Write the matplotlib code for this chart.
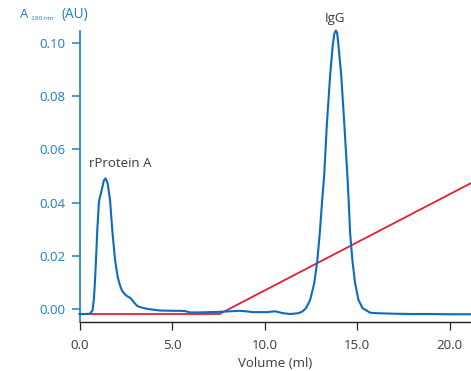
import matplotlib
matplotlib.use("Agg")
import matplotlib.pyplot as plt

# UV trace (A280)
volume_ml = [0.0, 0.3, 0.57, 0.71, 0.78, 0.84, 0.90, 0.96, 1.05, 1.12, 1.2, 1.32, 1.41,
             1.52, 1.65, 1.77, 1.92, 2.06, 2.17, 2.28, 2.42, 2.55, 2.77, 2.95, 3.12, 3.27,
             3.6, 4.0, 4.35, 5.0, 5.43, 5.7, 5.97, 6.51, 7.0, 7.51, 8.1, 8.65, 9.0, 9.38,
             10.12, 10.57, 11.0, 11.38, 11.83, 12.03, 12.24, 12.46, 12.68, 12.84, 12.98,
             13.11, 13.22, 13.36, 13.54, 13.68, 13.77, 13.85, 13.92, 13.99,
             14.14, 14.31, 14.47, 14.54, 14.62, 14.75, 14.89, 15.07, 15.29,
             15.7, 16.06, 17.0, 18.0, 19.0, 20.0, 21.2]
absorbance_au = [-0.0018, -0.0018, -0.0017, -0.0003, 0.004, 0.011, 0.020, 0.0297, 0.0403,
                 0.0425, 0.0447, 0.0484, 0.0491, 0.0472, 0.041, 0.0297, 0.0185, 0.0122,
                 0.0093, 0.0072, 0.0058, 0.005, 0.0041, 0.0025, 0.0012, 0.0008, 0.0002,
                 -0.0002, -0.0005, -0.0006, -0.0006, -0.0007, -0.0012, -0.0012, -0.0011,
                 -0.001, -0.0008, -0.0006, -0.0008, -0.0011, -0.0011, -0.0008, -0.0015,
                 -0.0018, -0.0015, -0.0009, 0.0004, 0.0035, 0.0097, 0.0178, 0.0285,
                 0.041, 0.0503, 0.069, 0.0878, 0.099, 0.1035, 0.1046, 0.1036, 0.099,
                 0.0878, 0.069, 0.0503, 0.041, 0.0285, 0.0178, 0.0097, 0.0035, 0.0004,
                 -0.0013, -0.0015, -0.0017, -0.0018, -0.0018, -0.0019, -0.0019]

# Elution gradient (drawn on the same scale)
gradient_ml = [0.0, 7.56, 21.2]
gradient_au = [-0.0018, -0.0018, 0.0475]

x_ticks = [0.0, 5.0, 10.0, 15.0, 20.0]
x_tick_labels = ["0.0", "5.0", "10.0", "15.0", "20.0"]
y_ticks = [0.00, 0.02, 0.04, 0.06, 0.08, 0.10]
y_tick_labels = ["0.00", "0.02", "0.04", "0.06", "0.08", "0.10"]

peak_labels = ["rProtein A", "IgG"]
peak_label_pos = [(2.2, 0.0547), (13.8, 0.1092)]

FONT = ["Open Sans", "DejaVu Sans"]
plt.rcParams["font.family"] = FONT

AXIS_BLUE = "#1f7dc4"
LINE_BLUE = "#0a6cbd"
RED = "#e0202e"
GREY = "#3a3a3a"

fig = plt.figure(figsize=(4.71, 3.71), dpi=100)
ax = fig.add_axes([0.1688, 0.1321, 0.8312, 0.7843])

ax.plot(gradient_ml, gradient_au, color=RED, lw=1.3, zorder=2)
ax.plot(volume_ml, absorbance_au, color=LINE_BLUE, lw=1.5, zorder=3,
        clip_on=False, solid_joinstyle="round")

ax.set_xlim(0, 21.15)
ax.set_ylim(-0.0048, 0.1044)

ax.set_xticks(x_ticks)
ax.set_xticklabels(x_tick_labels)
ax.set_yticks(y_ticks)
ax.set_yticklabels(y_tick_labels)

for s in ["top", "right"]:
    ax.spines[s].set_visible(False)
ax.spines["left"].set_color(AXIS_BLUE)
ax.spines["left"].set_linewidth(1.2)
ax.spines["bottom"].set_color("#222222")
ax.spines["bottom"].set_linewidth(1.0)

ax.tick_params(axis="y", colors=AXIS_BLUE, labelcolor=AXIS_BLUE, length=6,
               width=1.1, labelsize=9.5, pad=4)
ax.tick_params(axis="x", colors="#222222", labelcolor=GREY, length=6,
               width=0.9, labelsize=9.5, pad=6)

ax.set_xlabel("Volume (ml)", color=GREY, fontsize=9.5, labelpad=4)

for txt, (px, py) in zip(peak_labels, peak_label_pos):
    ax.text(px, py, txt, color=GREY, fontsize=9.5, ha="center", va="center")

fig.text(0.042, 0.962, "A", color=AXIS_BLUE, fontsize=9.5, ha="left", va="center")
fig.text(0.065, 0.950, "280 nm", color=AXIS_BLUE, fontsize=4.6, ha="left", va="center")
fig.text(0.131, 0.962, "(AU)", color=AXIS_BLUE, fontsize=9.8, ha="left", va="center")

fig.savefig("out.png", dpi=100)
